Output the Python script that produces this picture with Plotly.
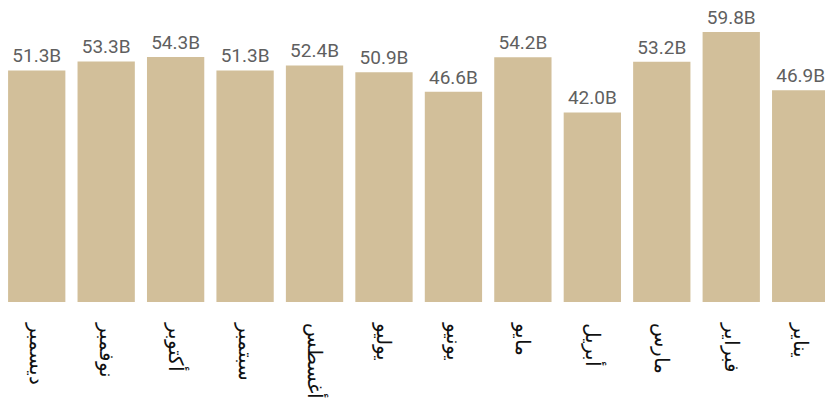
import plotly.graph_objects as go

months = ["يناير", "فبراير", "مارس", "أبريل", "مايو", "يونيو",
          "يوليو", "أغسطس", "سبتمبر", "أكتوبر", "نوفمبر", "ديسمبر"]
values = [46.9, 59.8, 53.2, 42.0, 54.2, 46.6, 50.9, 52.4, 51.3, 54.3, 53.3, 51.3]
labels = [f"{v:.1f}B" for v in values]

fig = go.Figure(go.Bar(
    x=months, y=values, text=labels, textposition="outside",
    textfont=dict(family="Roboto", size=19, color="#5f5f5f"),
    marker=dict(color="#D2BF9A", line=dict(width=0)),
    cliponaxis=False,
))

fig.update_layout(
    width=825, height=408,
    margin=dict(l=2, r=0, t=0, b=106),
    paper_bgcolor="white", plot_bgcolor="white",
    bargap=0.175, showlegend=False,
    xaxis=dict(categoryorder="array", categoryarray=months[::-1],
               range=[-0.5, 11.35], tickangle=90, showgrid=False,
               showline=False, zeroline=False, ticks="",
               ticklabelstandoff=20,
               tickfont=dict(family="Noto Sans", size=20, color="#111111")),
    yaxis=dict(range=[0, 66.9], visible=False),
)

fig.write_html("out.html", config={"displayModeBar": False},
               post_script="document.body.style.margin='0';")
